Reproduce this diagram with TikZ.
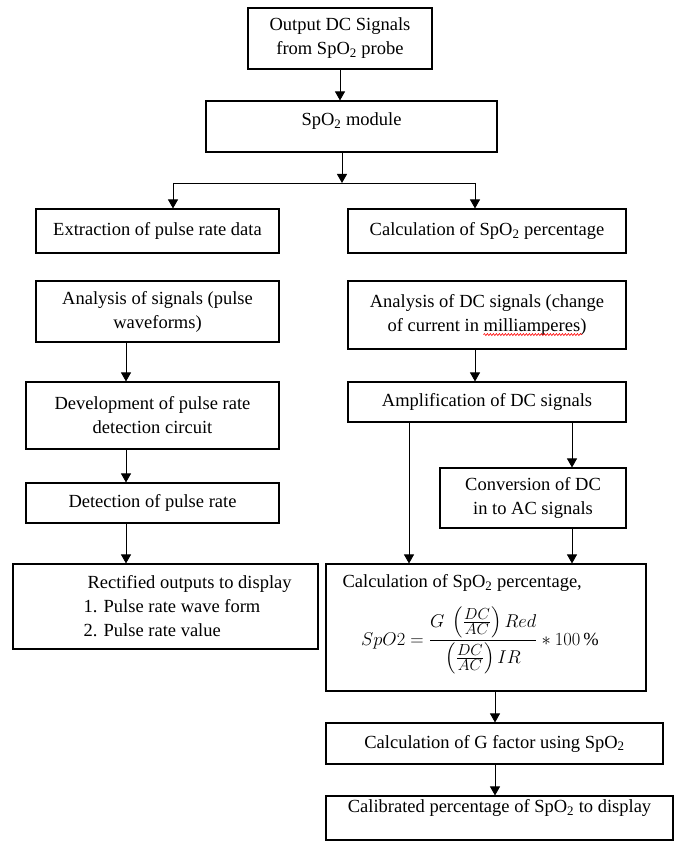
\RequirePackage{fix-cm}
\documentclass[tikz,border=0pt]{standalone}
\usepackage{fontspec}
\setmainfont{Liberation Serif}
\usepackage{amsmath}
\usetikzlibrary{arrows.meta, positioning, calc, decorations.pathmorphing}

\newcommand\spo{SpO\textsubscript{2}}
\newcommand\ratiopart[1]{\mbox{\fontsize{16}{16}\selectfont$#1$}}
\newcommand\dcac{\left(\frac{\ratiopart{DC}}{\ratiopart{AC}}\right)}

\begin{document}
\begin{tikzpicture}[
    x=1pt, y=-1pt,
    every node/.style={font=\fontsize{18.5}{24}\selectfont},
    box/.style={draw, line width=1.1pt, align=center, inner sep=0pt},
    arrow/.style={-{Triangle[length=9pt, width=10pt]}, line width=0.9pt},
    spellwave/.style={red, line width=0.6pt, decorate, decoration={snake, amplitude=1pt, segment length=3pt}}
]
    \useasboundingbox (0,0) rectangle (676,842);

    % Probe and module
    \node[box, minimum width=184, minimum height=61] (probe) at (340,38.5) {Output DC Signals\\from \spo{} probe};
    \node[box, minimum width=291, minimum height=51, text depth=15pt] (module) at (351.5,126.5) {\spo{} module};

    % Left column
    \node[box, minimum width=243, minimum height=44] (pulse) at (157.5,231) {Extraction of pulse rate data};
    \node[box, minimum width=243, minimum height=61] (anasig) at (157.5,311.5) {Analysis of signals (pulse\\waveforms)};
    \node[box, minimum width=253, minimum height=67] (devel) at (152.5,415.5) {Development of pulse rate\\detection circuit};
    \node[box, minimum width=253, minimum height=40] (detect) at (152.5,503) {Detection of pulse rate};
    \node[box, minimum width=305, minimum height=85] (rect) at (165.5,606.5) {};
    \node[anchor=north west, align=left, inner sep=0pt] (recttext) at ([xshift=71pt, yshift=-12pt]rect.north west)
        {\hspace*{4pt}Rectified outputs to display\\1. Pulse rate wave form\\2. Pulse rate value};

    % Right column
    \node[box, minimum width=278, minimum height=44] (calc) at (487,231) {Calculation of \spo{} percentage};
    \node[box, minimum width=278, minimum height=68] (anadc) at (487,315) {Analysis of DC signals (change\\of current in milliamperes)};
    \draw[spellwave] ([xshift=136pt, yshift=15pt]anadc.south west) -- ([xshift=235pt, yshift=15pt]anadc.south west);
    \node[box, minimum width=278, minimum height=40] (amp) at (487,402) {Amplification of DC signals};
    \node[box, minimum width=186, minimum height=60] (conv) at (533,498) {Conversion of DC\\in to AC signals};
    \node[box, minimum width=320, minimum height=127] (formula) at (486,627.5) {};
    \node[anchor=north west, inner sep=0pt] (formulahead) at ([xshift=17pt, yshift=-11pt]formula.north west)
        {Calculation of \spo{} percentage,};
    \node[inner sep=0pt] (formulaeq) at ([xshift=-6pt, yshift=-13pt]formula.center)
        {$\displaystyle SpO2=\frac{G\;\dcac Red}{\dcac IR}\ast 100\,\%$};
    \node[box, minimum width=337, minimum height=41] (gfac) at (494.5,743.5) {Calculation of G factor using \spo};
    \node[box, minimum width=347, minimum height=44, text depth=24pt] (calib) at (499.5,818) {Calibrated percentage of \spo{} to display};

    % Split below the module
    \coordinate (split) at (342,183);
    \coordinate (splitL) at (173,183);
    \coordinate (splitR) at (475,183);
    \draw[arrow] (probe) -- (probe |- module.north);
    \draw[arrow] (split |- module.south) -- (split);
    \draw[line width=0.9pt] (splitL) -- (splitR);
    \draw[arrow] (splitL) -- (splitL |- pulse.north);
    \draw[arrow] (splitR) -- (splitR |- calc.north);

    % Connections
    \coordinate (leftx) at (126,0);
    \coordinate (rightx) at (475,0);
    \coordinate (ampL) at (409,0);
    \coordinate (ampR) at (572,0);
    \coordinate (midx) at (495,0);
    \foreach \a/\b in {anasig/devel, devel/detect, detect/rect} {
        \draw[arrow] (leftx |- \a.south) -- (leftx |- \b.north);
    }
    \draw[arrow] (rightx |- anadc.south) -- (rightx |- amp.north);
    \draw[arrow] (ampL |- amp.south) -- (ampL |- formula.north);
    \foreach \a/\b in {amp/conv, conv/formula} {
        \draw[arrow] (ampR |- \a.south) -- (ampR |- \b.north);
    }
    \foreach \a/\b in {formula/gfac, gfac/calib} {
        \draw[arrow] (midx |- \a.south) -- (midx |- \b.north);
    }
\end{tikzpicture}
\end{document}
